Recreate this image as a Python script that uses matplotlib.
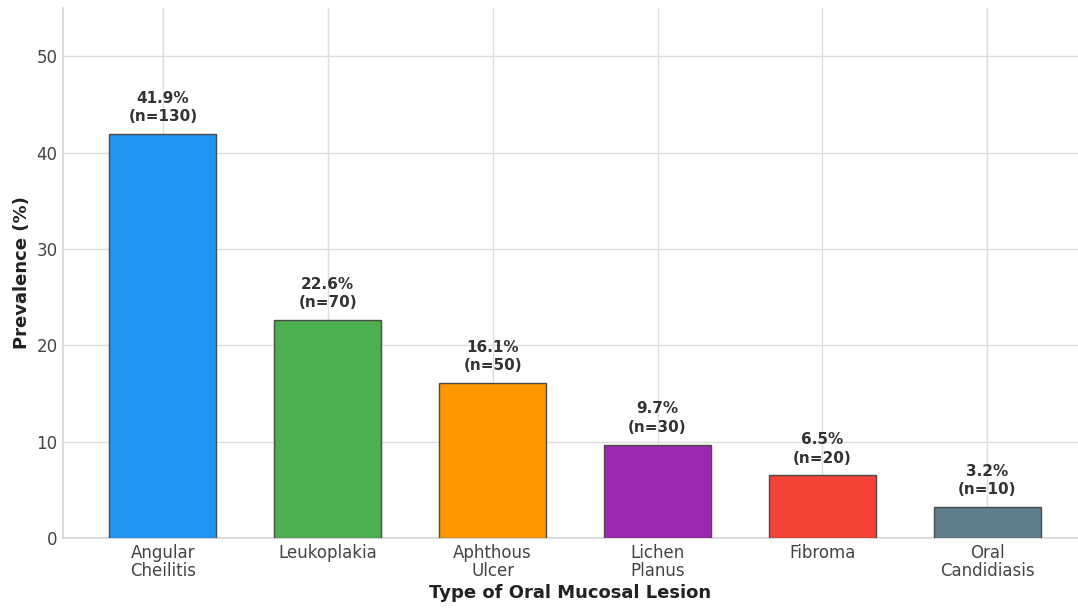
import matplotlib.pyplot as plt
import numpy as np

# prevalence of oral mucosal lesions
lesions = ["Angular\nCheilitis", "Leukoplakia", "Aphthous\nUlcer", "Lichen\nPlanus",
           "Fibroma", "Oral\nCandidiasis"]
prevalence = [41.9, 22.6, 16.1, 9.7, 6.5, 3.2]
counts = [130, 70, 50, 30, 20, 10]
colors = ["#2196F3", "#4CAF50", "#FF9800", "#9C27B0", "#F44336", "#607D8B"]

plt.rcParams['font.family'] = 'DejaVu Sans'

fig = plt.figure(figsize=(10.78, 6.09), dpi=100)
ax = fig.add_axes([0.0584, 0.1166, 0.9416, 0.8703])

x = np.arange(len(lesions))
bars = ax.bar(x, prevalence, width=0.65, color=colors, edgecolor="#4a4a4a",
              linewidth=1.0, zorder=3)

# value labels above each bar
for xi, p, n in zip(x, prevalence, counts):
    ax.annotate(f"{p}%\n(n={n})", (xi, p), xytext=(0, 7), textcoords="offset points",
                ha="center", va="bottom", fontsize=11, fontweight="bold",
                color="#333333", linespacing=1.3, zorder=4)

ax.set_xlim(-0.606, 5.55)
ax.set_ylim(0, 55)
ax.set_yticks([0, 10, 20, 30, 40, 50])
ax.set_xticks(x)
ax.set_xticklabels(lesions, linespacing=1.05)

ax.grid(True, color="#dddddd", linewidth=1.0, zorder=0)
ax.set_axisbelow(True)
for s in ["top", "right"]:
    ax.spines[s].set_visible(False)
for s in ["left", "bottom"]:
    ax.spines[s].set_color("#d5d5d5")
    ax.spines[s].set_linewidth(1.2)

ax.tick_params(axis="both", length=0, labelsize=12, labelcolor="#444444", pad=4)
ax.set_ylabel("Prevalence (%)", fontsize=13, fontweight="bold", color="#222222", labelpad=4)
ax.set_xlabel("Type of Oral Mucosal Lesion", fontsize=13, fontweight="bold",
              color="#222222", labelpad=3)

fig.savefig("out.png", dpi=100)
